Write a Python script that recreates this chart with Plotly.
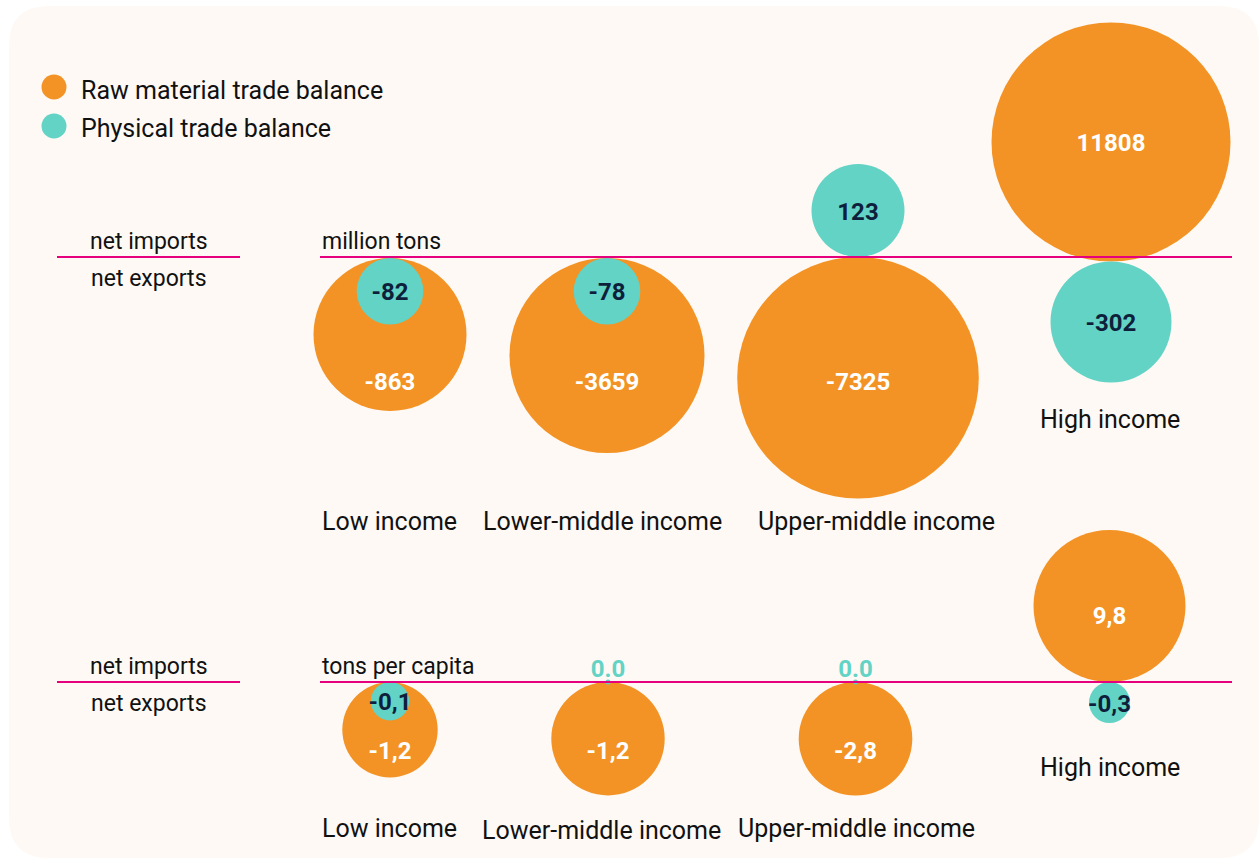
"""
Raw material vs physical trade balance by income group, bubble layout.
"""
import plotly.graph_objects as go
from plotly.subplots import make_subplots

# Data
CATEGORIES = ["Low income", "Lower-middle income", "Upper-middle income", "High income"]
RAW_MT = [-863, -3659, -7325, 11808]      # million tons
PHYS_MT = [-82, -78, 123, -302]           # million tons
RAW_PC = [-1.2, -1.2, -2.8, 9.8]          # tons per capita
PHYS_PC = [-0.1, 0.0, 0.0, -0.3]          # tons per capita

SERIES_NAMES = ["Raw material trade balance", "Physical trade balance"]

# Styling
W, H = 1260, 862
SPLIT = 560  # px row where the two panels meet
ORANGE = "#F39325"
TEAL = "#62D3C4"
MAGENTA = "#E6007E"
NAVY = "#0E1F3C"
INK = "#111111"
PANEL_BG = "#FEF9F5"
FONT = "Roboto"
TEXT_NUDGE = -3  # plotly centres text slightly high

# Panel layout (px units, y measured from each baseline, up = positive)
PANELS = [
    dict(base=257, unit="million tons", fmt="int",
         cols=[390, 607, 858, 1111],
         touch=[-1, -1, 0, -4.5],
         raw_r=[76.5, 97.5, 120.8, 119.5], phys_r=[33.3, 33.3, 46.5, 60.5],
         neg_label=-123.5, pos_shift=0,
         cat_x=[389, 602, 876, 1110], cat_y=[-264, -264, -264, -162]),
    dict(base=682, unit="tons per capita", fmt="dec",
         cols=[390, 608, 855.5, 1109.5],
         touch=[0, 0, 0, 0],
         raw_r=[47.7, 56.7, 56.8, 76], phys_r=[19.2, 2.5, 2.5, 20.5],
         neg_label=-67.5, pos_shift=-9,
         cat_x=[389, 601, 856, 1110], cat_y=[-146, -148, -146, -85]),
]


def fmt_value(v, kind):
    if kind == "int":
        return str(v)
    if v == 0:
        return "0.0"
    return f"{v:.1f}".replace(".", ",")


def centre(v, r, touch):
    if v == 0:
        return 0
    return touch + (r if v > 0 else -r)


fig = make_subplots(rows=2, cols=1, vertical_spacing=0,
                    row_heights=[SPLIT / H, 1 - SPLIT / H])

panel_data = [(RAW_MT, PHYS_MT), (RAW_PC, PHYS_PC)]

for i, (p, (raw, phys)) in enumerate(zip(PANELS, panel_data)):
    row = i + 1
    yref = "y" if row == 1 else "y2"
    xref = "x" if row == 1 else "x2"

    raw_y = [centre(v, r, t) for v, r, t in zip(raw, p["raw_r"], p["touch"])]
    phys_y = [centre(v, r, t) for v, r, t in zip(phys, p["phys_r"], p["touch"])]

    # Bubbles
    fig.add_trace(go.Scatter(
        x=p["cols"], y=raw_y, mode="markers", name=SERIES_NAMES[0],
        marker=dict(size=[2 * r for r in p["raw_r"]], color=ORANGE,
                    opacity=1, line=dict(width=0)),
        cliponaxis=False, showlegend=False, hoverinfo="skip"
    ), row=row, col=1)
    fig.add_trace(go.Scatter(
        x=p["cols"], y=phys_y, mode="markers", name=SERIES_NAMES[1],
        marker=dict(size=[2 * r for r in p["phys_r"]], color=TEAL,
                    opacity=1, line=dict(width=0)),
        cliponaxis=False, showlegend=False, hoverinfo="skip"
    ), row=row, col=1)

    # Raw labels (white)
    raw_label_y = [(yc + p["pos_shift"] if v > 0 else p["neg_label"]) + TEXT_NUDGE
                   for v, yc in zip(raw, raw_y)]
    fig.add_trace(go.Scatter(
        x=p["cols"], y=raw_label_y, mode="text",
        text=[fmt_value(v, p["fmt"]) for v in raw],
        textfont=dict(family=FONT, size=24, color="white", weight=700),
        cliponaxis=False, showlegend=False, hoverinfo="skip"
    ), row=row, col=1)

    # Physical labels: navy inside bubble, teal above line for zero values
    nz = [k for k, v in enumerate(phys) if v != 0]
    zz = [k for k, v in enumerate(phys) if v == 0]
    fig.add_trace(go.Scatter(
        x=[p["cols"][k] for k in nz], y=[phys_y[k] + TEXT_NUDGE for k in nz], mode="text",
        text=[fmt_value(phys[k], p["fmt"]) for k in nz],
        textfont=dict(family=FONT, size=24, color=NAVY, weight=700),
        cliponaxis=False, showlegend=False, hoverinfo="skip"
    ), row=row, col=1)
    if zz:
        fig.add_trace(go.Scatter(
            x=[p["cols"][k] for k in zz], y=[14 + TEXT_NUDGE for _ in zz], mode="text",
            text=[fmt_value(phys[k], p["fmt"]) for k in zz],
            textfont=dict(family=FONT, size=24, color=TEAL, weight=700),
            cliponaxis=False, showlegend=False, hoverinfo="skip"
        ), row=row, col=1)

    # Baselines
    fig.add_shape(type="line", xref=xref, yref=yref, x0=320, x1=1232, y0=0, y1=0,
                  line=dict(color=MAGENTA, width=2))
    fig.add_shape(type="line", xref=xref, yref=yref, x0=57, x1=240, y0=0, y1=0,
                  line=dict(color=MAGENTA, width=2))

    # Side labels
    for txt, yy in [("net imports", 16), ("net exports", -21)]:
        fig.add_annotation(x=149, y=yy, xref=xref, yref=yref, text=txt, showarrow=False,
                           font=dict(family=FONT, size=23, color=INK),
                           xanchor="center", yanchor="middle")
    fig.add_annotation(x=320, y=16, xref=xref, yref=yref, text=p["unit"], showarrow=False,
                       font=dict(family=FONT, size=23, color=INK),
                       xanchor="left", yanchor="middle")

    # Category labels
    for cat, cx, cy in zip(CATEGORIES, p["cat_x"], p["cat_y"]):
        fig.add_annotation(x=cx, y=cy, xref=xref, yref=yref, text=cat, showarrow=False,
                           font=dict(family=FONT, size=25, color=INK),
                           xanchor="center", yanchor="middle")

    fig.update_yaxes(range=[p["base"] - (SPLIT if row == 1 else H),
                            p["base"] - (0 if row == 1 else SPLIT)],
                     visible=False, fixedrange=True, row=row, col=1)
    fig.update_xaxes(range=[0, W], visible=False, fixedrange=True, row=row, col=1)


# Rounded background panel
def rounded_rect(x0, y0, x1, y1, rad):
    def px(x):
        return x / W

    def py(y):
        return 1 - y / H
    return (f"M {px(x0 + rad)},{py(y0)} L {px(x1 - rad)},{py(y0)} "
            f"Q {px(x1)},{py(y0)} {px(x1)},{py(y0 + rad)} "
            f"L {px(x1)},{py(y1 - rad)} Q {px(x1)},{py(y1)} {px(x1 - rad)},{py(y1)} "
            f"L {px(x0 + rad)},{py(y1)} Q {px(x0)},{py(y1)} {px(x0)},{py(y1 - rad)} "
            f"L {px(x0)},{py(y0 + rad)} Q {px(x0)},{py(y0)} {px(x0 + rad)},{py(y0)} Z")


fig.add_shape(type="path", xref="paper", yref="paper", layer="below",
              path=rounded_rect(9, 6, 1259, 858, 40),
              fillcolor=PANEL_BG, line=dict(width=0))

# Manual legend
for name, color, cy in [(SERIES_NAMES[0], ORANGE, 87), (SERIES_NAMES[1], TEAL, 126)]:
    fig.add_shape(type="circle", xref="paper", yref="paper",
                  x0=(54 - 12.5) / W, x1=(54 + 12.5) / W,
                  y0=1 - (cy + 12.5) / H, y1=1 - (cy - 12.5) / H,
                  fillcolor=color, line=dict(width=0))
    fig.add_annotation(x=79 / W, y=1 - (cy + 3) / H, xref="paper", yref="paper",
                       text=name, showarrow=False, xanchor="left", yanchor="middle",
                       font=dict(family=FONT, size=25, color=INK))

fig.update_layout(
    width=W, height=H,
    margin=dict(l=0, r=0, t=0, b=0),
    paper_bgcolor="white",
    plot_bgcolor="rgba(0,0,0,0)",
    showlegend=False,
)

# drop the default 8px body margin so the figure fills the window
fig.write_html("out.html", config={"displayModeBar": False},
               post_script="document.body.style.margin='0';")
